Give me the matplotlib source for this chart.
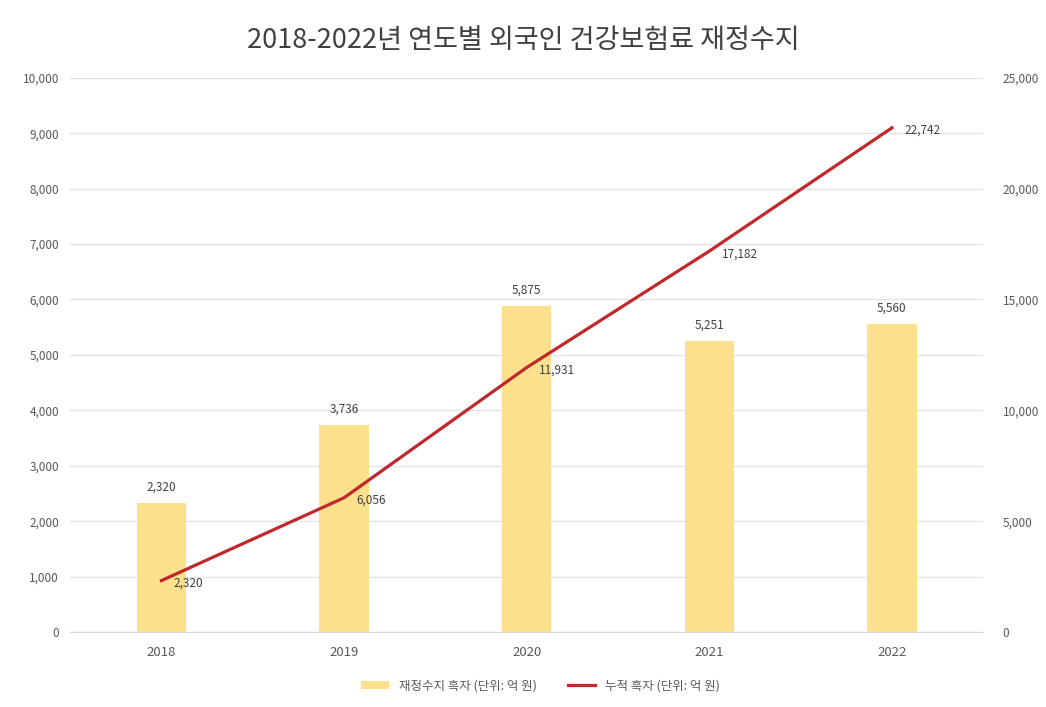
import matplotlib
matplotlib.use("Agg")
import matplotlib.pyplot as plt
from matplotlib.ticker import FuncFormatter, MultipleLocator

plt.rcParams['font.family'] = ['Noto Sans CJK KR', 'DejaVu Sans']

years = ['2018', '2019', '2020', '2021', '2022']
surplus = [2320, 3736, 5875, 5251, 5560]
cumulative = [2320, 6056, 11931, 17182, 22742]
title = '2018-2022년 연도별 외국인 건강보험료 재정수지'
bar_label = '재정수지 흑자 (단위: 억 원)'
line_label = '누적 흑자 (단위: 억 원)'

bar_color = '#FDE08C'
line_color = '#C0282B'
text_color = '#595959'
grid_color = '#E3E3E3'

fig = plt.figure(figsize=(10.46, 7.07), dpi=100)
ax = fig.add_axes([0.067, 0.106, 0.873, 0.784])
ax2 = ax.twinx()

x = list(range(len(years)))
bars = ax.bar(x, surplus, width=0.27, color=bar_color, zorder=2, label=bar_label)
ln, = ax2.plot(x, cumulative, color=line_color, lw=2.3, zorder=3, label=line_label)

ax.set_xlim(-0.5, len(years) - 0.5)
ax.set_ylim(0, 10000)
ax2.set_ylim(0, 25000)
ax.yaxis.set_major_locator(MultipleLocator(1000))
ax2.yaxis.set_major_locator(MultipleLocator(5000))
fmt = FuncFormatter(lambda v, p: f'{int(v):,}')
ax.yaxis.set_major_formatter(fmt)
ax2.yaxis.set_major_formatter(fmt)
ax.set_xticks(x)
ax.set_xticklabels(years)

ax.grid(axis='y', color=grid_color, lw=1.0, zorder=0)
ax.set_axisbelow(True)
for a in (ax, ax2):
    for s in a.spines.values():
        s.set_visible(False)
    a.tick_params(length=0, colors=text_color, labelsize=8.5)
ax.tick_params(axis='y', pad=8)
ax2.tick_params(axis='y', pad=14)
ax.tick_params(axis='x', pad=10, labelsize=9.5)
ax.spines['bottom'].set_visible(True)
ax.spines['bottom'].set_color('#D9D9D9')

ax2.set_zorder(ax.get_zorder() + 1)
ax2.patch.set_visible(False)

for xi, v in zip(x, surplus):
    ax.annotate(f'{v:,}', (xi, v), xytext=(0, 7), textcoords='offset points',
                ha='center', va='bottom', fontsize=8.5, color='#404040')
for xi, v in zip(x, cumulative):
    ax2.annotate(f'{v:,}', (xi, v), xytext=(9, -2), textcoords='offset points',
                 ha='left', va='center', fontsize=8.5, color='#404040')

fig.text(0.5, 0.943, title, ha='center', va='center', fontsize=19.5, color='#404040')
fig.legend(handles=[bars, ln], labels=[bar_label, line_label], loc='center',
           bbox_to_anchor=(0.517, 0.03), ncol=2, frameon=False, fontsize=9,
           labelcolor=text_color, handlelength=2.2, columnspacing=2.5)

fig.savefig('out.png', dpi=100)
